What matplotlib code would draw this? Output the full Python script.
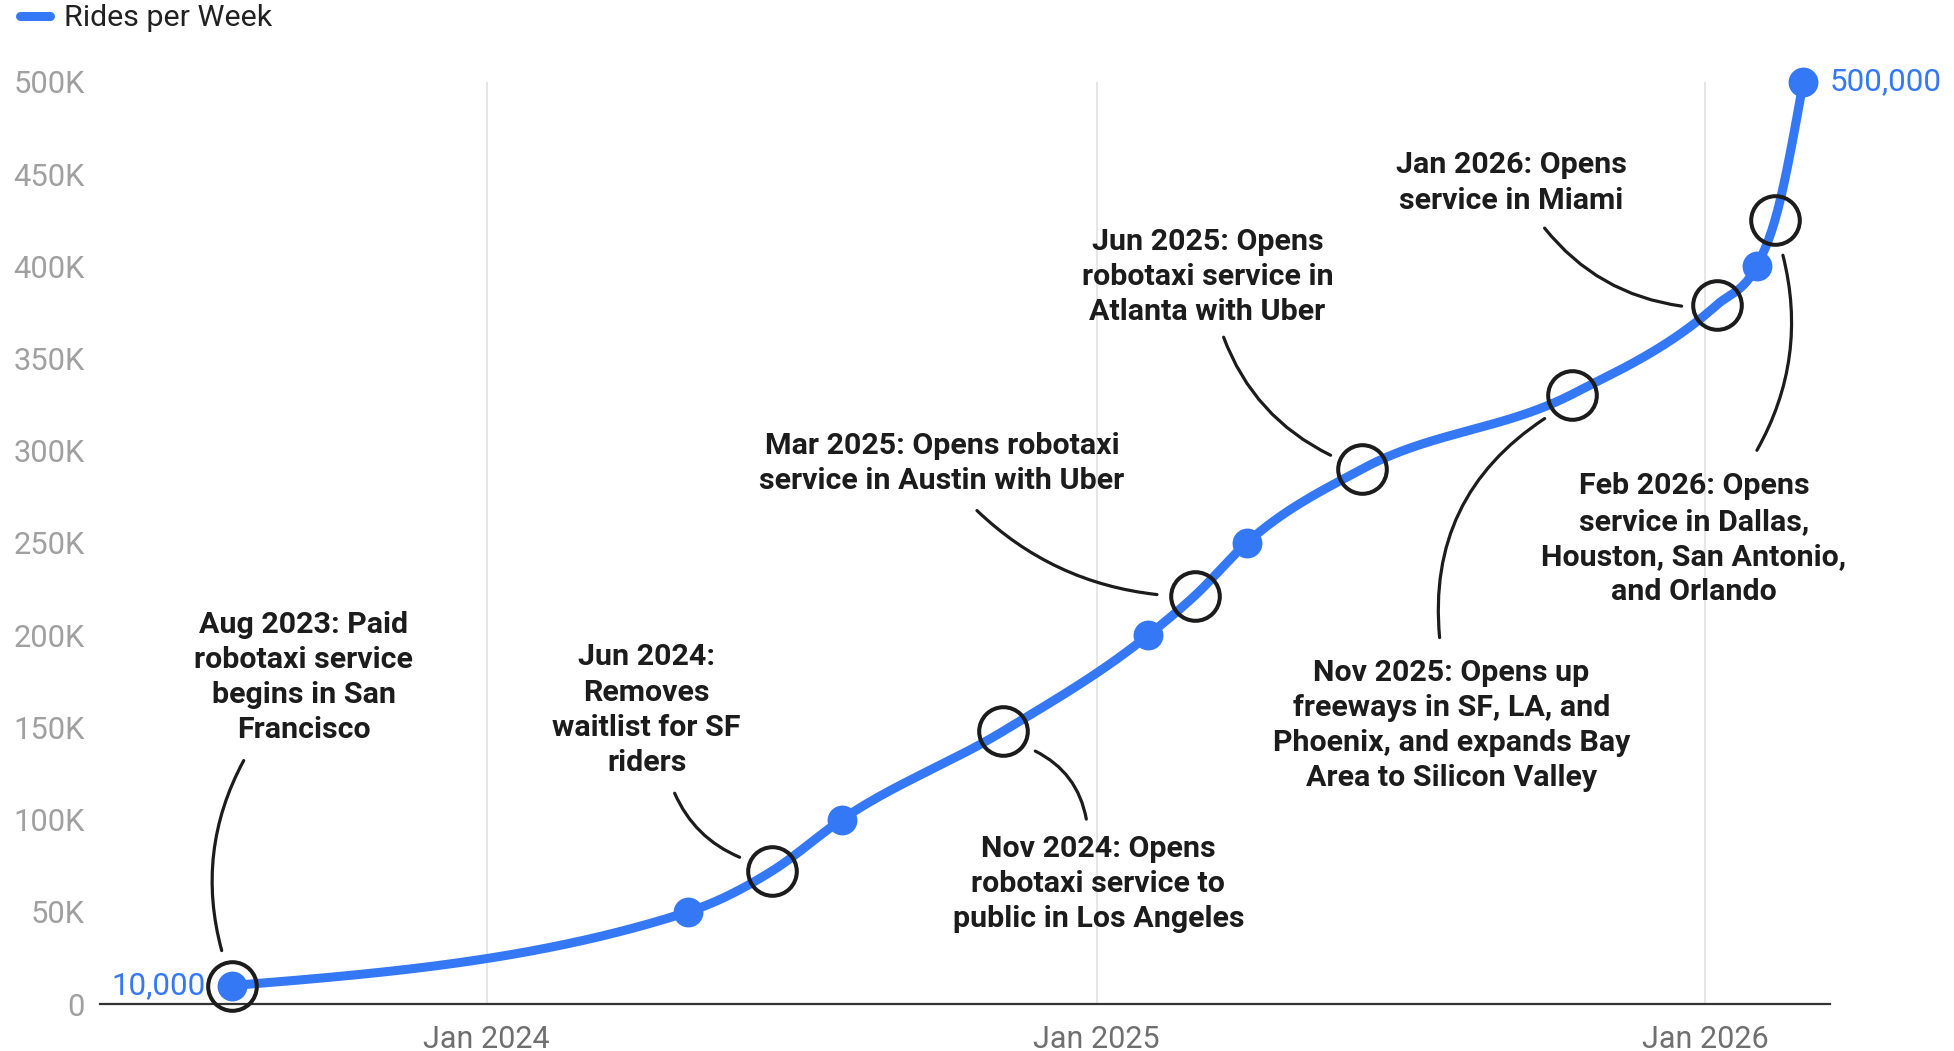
import numpy as np
import matplotlib.pyplot as plt
import matplotlib.dates as mdates
from matplotlib.lines import Line2D
from matplotlib.transforms import offset_copy

plt.rcParams['font.family'] = ['Roboto', 'DejaVu Sans']

# weekly rides
dates = ['2023-08-01', '2024-05-01', '2024-06-20', '2024-08-01', '2024-11-06',
         '2025-02-01', '2025-03-01', '2025-04-01', '2025-06-09', '2025-10-13',
         '2026-01-08', '2026-02-01', '2026-02-12', '2026-03-01']
rides = [10000, 50000, 72000, 100000, 148000, 200000, 221500, 250000,
         290000, 330500, 379000, 400000, 425000, 500000]

# points drawn as filled dots
dot_dates = ['2023-08-01', '2024-05-01', '2024-08-01', '2025-02-01',
             '2025-04-01', '2026-02-01', '2026-03-01']

# circled milestones
event_dates = ['2023-08-01', '2024-06-20', '2024-11-06', '2025-03-01',
               '2025-06-09', '2025-10-13', '2026-01-08', '2026-02-12']
event_labels = ['Aug 2023: Paid\nrobotaxi service\nbegins in San\nFrancisco',
                'Jun 2024:\nRemoves\nwaitlist for SF\nriders',
                'Nov 2024: Opens\nrobotaxi service to\npublic in Los Angeles',
                'Mar 2025: Opens robotaxi\nservice in Austin with Uber',
                'Jun 2025: Opens\nrobotaxi service in\nAtlanta with Uber',
                'Nov 2025: Opens up\nfreeways in SF, LA, and\nPhoenix, and expands Bay\nArea to Silicon Valley',
                'Jan 2026: Opens\nservice in Miami',
                'Feb 2026: Opens\nservice in Dallas,\nHouston, San Antonio,\nand Orlando']

x_ticks = ['2024-01-01', '2025-01-01', '2026-01-01']
x_tick_labels = ['Jan 2024', 'Jan 2025', 'Jan 2026']
y_ticks = list(range(0, 500001, 50000))
y_tick_labels = ['0', '50K', '100K', '150K', '200K', '250K', '300K', '350K', '400K', '450K', '500K']

# label placement (pixels from the circled point): text, leader start, leader end, bend
layout = [((72, 308), (12, 225), (-10, 35), 0.2),
          ((-125, 161), (-97, 78), (-32, 14), 0.2),
          ((95, -153), (83, -88), (32, -20), 0.25),
          ((-253, 132), (-218, 85), (-38, 1), 0.17),
          ((-154, 192), (-138, 132), (-31, 14), 0.2),
          ((-120, -331), (-132, -243), (-27, -24), -0.3),
          ((-205, 122), (-172, 77), (-35, -1), 0.2),
          ((-81, -319), (-18, -230), (8, -35), 0.2)]

blue = '#3478f6'
ink = '#1c1c1c'


def monotone_x(x, y, xs):
    # monotone cubic (same rule as d3.curveMonotoneX) for the smooth line
    n = len(x)
    h = np.diff(x)
    s = np.diff(y) / h
    t = np.zeros(n)
    for k in range(1, n - 1):
        p = (s[k - 1] * h[k] + s[k] * h[k - 1]) / (h[k - 1] + h[k])
        t[k] = (np.sign(s[k - 1]) + np.sign(s[k])) * min(abs(s[k - 1]), abs(s[k]), 0.5 * abs(p))
    t[0] = (3 * s[0] - t[1]) / 2
    t[-1] = (3 * s[-1] - t[-2]) / 2
    idx = np.clip(np.searchsorted(x, xs) - 1, 0, n - 2)
    u = (xs - x[idx]) / h[idx]
    h00 = 2 * u**3 - 3 * u**2 + 1
    h10 = u**3 - 2 * u**2 + u
    h01 = -2 * u**3 + 3 * u**2
    h11 = u**3 - u**2
    return (h00 * y[idx] + h10 * h[idx] * t[idx]
            + h01 * y[idx + 1] + h11 * h[idx] * t[idx + 1])


xd = mdates.datestr2num(dates)
yd = np.array(rides, dtype=float)
lookup = dict(zip(dates, rides))

fig = plt.figure(figsize=(19.54, 10.51), dpi=100)
ax = fig.add_axes([0.0512, 0.0447, 0.8853, 0.8773])

# smooth line
xs = np.linspace(xd[0], xd[-1], 1000)
ax.plot(xs, monotone_x(xd, yd, xs), color=blue, lw=6.5, solid_capstyle='round',
        zorder=3, clip_on=False)

# dots
ax.plot(mdates.datestr2num(dot_dates), [lookup[d] for d in dot_dates], 'o',
        color=blue, ms=21.5, mew=0, zorder=4, clip_on=False)

# circles, labels, leaders
ex = mdates.datestr2num(event_dates)
ey = [lookup[d] for d in event_dates]
ax.plot(ex, ey, 'o', mfc='none', mec=ink, ms=35, mew=2.9, zorder=5, clip_on=False)

for x, y, label, (tpos, spos, epos, rad) in zip(ex, ey, event_labels, layout):
    ax.annotate(label, xy=(x, y), xytext=tpos, textcoords='offset pixels',
                ha='center', va='center', multialignment='center',
                fontsize=21.9, fontweight='bold', color=ink, linespacing=1.33)
    ax.annotate('', xy=(x, y),
                xycoords=offset_copy(ax.transData, fig, x=epos[0], y=epos[1], units='dots'),
                xytext=(x, y),
                textcoords=offset_copy(ax.transData, fig, x=spos[0], y=spos[1], units='dots'),
                arrowprops=dict(arrowstyle='-', color=ink, lw=2.3,
                                connectionstyle='arc3,rad=%s' % rad,
                                shrinkA=0, shrinkB=0))

# first / last value labels
ax.annotate('{:,}'.format(rides[0]), xy=(xd[0], yd[0]), xytext=(-26, 0),
            textcoords='offset pixels', ha='right', va='center',
            fontsize=22.6, color=blue)
ax.annotate('{:,}'.format(rides[-1]), xy=(xd[-1], yd[-1]), xytext=(26, 0),
            textcoords='offset pixels', ha='left', va='center',
            fontsize=22.6, color=blue)

# axes
ax.set_xlim(mdates.datestr2num('2023-05-14'), mdates.datestr2num('2026-03-17'))
ax.set_ylim(0, 500000)
ax.set_xticks(mdates.datestr2num(x_ticks))
ax.set_xticklabels(x_tick_labels)
ax.set_yticks(y_ticks)
ax.set_yticklabels(y_tick_labels)
ax.tick_params(axis='x', length=0, pad=15, labelsize=22, labelcolor='#6f6f6f')
ax.tick_params(axis='y', length=0, pad=11, labelsize=22.2, labelcolor='#a0a0a0')
ax.grid(axis='x', color='#e4e4e4', lw=1.3)
ax.set_axisbelow(True)
for s in ['top', 'right', 'left']:
    ax.spines[s].set_visible(False)
ax.spines['bottom'].set_color('#333333')
ax.spines['bottom'].set_linewidth(1.6)

# legend
handle = Line2D([], [], color=blue, lw=6.5, solid_capstyle='round', label='Rides per Week')
fig.legend(handles=[handle], loc='upper left', bbox_to_anchor=(0.010, 0.996),
           frameon=False, fontsize=21.9, handlelength=1.0, handletextpad=0.45,
           borderpad=0, borderaxespad=0, labelcolor='#212121')

fig.savefig('out.png', dpi=100)
